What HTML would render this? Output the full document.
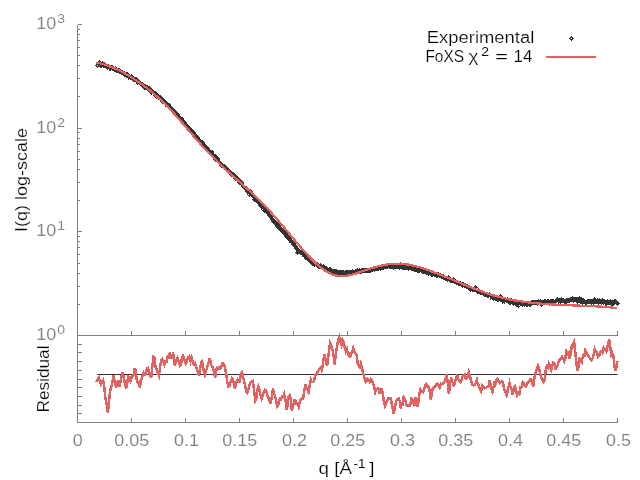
<!DOCTYPE html>
<html lang="en">
<head>
<meta charset="utf-8">
<title>FoXS SAXS profile fit</title>
<style>
html,body{margin:0;padding:0;background:#fff;}
body{width:640px;height:480px;overflow:hidden;font-family:"Liberation Sans",sans-serif;}
svg{display:block;will-change:transform;}
</style>
</head>
<body>
<svg width="640" height="480" viewBox="0 0 640 480">
<rect width="640" height="480" fill="#ffffff"/>
<path d="M97.9,65.3L100.5,62.7L103.1,65.3L100.5,67.9ZM98.9,65.2L101.5,62.6L104.1,65.2L101.5,67.8ZM99.9,63.7L102.5,61.1L105.1,63.7L102.5,66.3ZM100.9,65.2L103.5,62.6L106.1,65.2L103.5,67.8ZM101.9,65.0L104.5,62.4L107.1,65.0L104.5,67.6ZM102.9,65.7L105.5,63.1L108.1,65.7L105.5,68.3ZM103.9,66.3L106.5,63.7L109.1,66.3L106.5,68.9ZM104.9,67.2L107.5,64.6L110.1,67.2L107.5,69.8ZM105.9,66.5L108.5,63.9L111.1,66.5L108.5,69.1ZM106.9,67.9L109.5,65.3L112.1,67.9L109.5,70.5ZM107.9,67.9L110.5,65.3L113.1,67.9L110.5,70.5ZM108.9,67.8L111.5,65.2L114.1,67.8L111.5,70.4ZM109.9,68.0L112.5,65.4L115.1,68.0L112.5,70.6ZM110.9,68.5L113.5,65.9L116.1,68.5L113.5,71.1ZM111.9,69.2L114.5,66.6L117.1,69.2L114.5,71.8ZM112.9,68.7L115.5,66.1L118.1,68.7L115.5,71.3ZM113.9,70.6L116.5,68.0L119.1,70.6L116.5,73.2ZM114.9,70.3L117.5,67.7L120.1,70.3L117.5,72.9ZM115.9,70.1L118.5,67.5L121.1,70.1L118.5,72.7ZM116.9,71.6L119.5,69.0L122.1,71.6L119.5,74.2ZM117.9,71.5L120.5,68.9L123.1,71.5L120.5,74.1ZM118.9,72.2L121.5,69.6L124.1,72.2L121.5,74.8ZM119.9,72.5L122.5,69.9L125.1,72.5L122.5,75.1ZM120.9,73.6L123.5,71.0L126.1,73.6L123.5,76.2ZM121.9,74.0L124.5,71.4L127.1,74.0L124.5,76.6ZM122.9,74.1L125.5,71.5L128.1,74.1L125.5,76.7ZM123.9,74.9L126.5,72.3L129.1,74.9L126.5,77.5ZM124.9,74.8L127.5,72.2L130.1,74.8L127.5,77.4ZM125.9,76.9L128.5,74.3L131.1,76.9L128.5,79.5ZM126.9,76.3L129.5,73.7L132.1,76.3L129.5,78.9ZM127.9,77.2L130.5,74.6L133.1,77.2L130.5,79.8ZM128.9,77.0L131.5,74.4L134.1,77.0L131.5,79.6ZM129.9,77.2L132.5,74.6L135.1,77.2L132.5,79.8ZM130.9,79.6L133.5,77.0L136.1,79.6L133.5,82.2ZM131.9,79.7L134.5,77.1L137.1,79.7L134.5,82.3ZM132.9,79.9L135.5,77.3L138.1,79.9L135.5,82.5ZM133.9,80.0L136.5,77.4L139.1,80.0L136.5,82.6ZM134.9,82.1L137.5,79.5L140.1,82.1L137.5,84.7ZM135.9,81.5L138.5,78.9L141.1,81.5L138.5,84.1ZM136.9,82.4L139.5,79.8L142.1,82.4L139.5,85.0ZM137.9,83.2L140.5,80.6L143.1,83.2L140.5,85.8ZM138.9,84.2L141.5,81.6L144.1,84.2L141.5,86.8ZM139.9,84.7L142.5,82.1L145.1,84.7L142.5,87.3ZM140.9,85.4L143.5,82.8L146.1,85.4L143.5,88.0ZM141.9,87.1L144.5,84.5L147.1,87.1L144.5,89.7ZM142.9,86.9L145.5,84.3L148.1,86.9L145.5,89.5ZM143.9,87.8L146.5,85.2L149.1,87.8L146.5,90.4ZM144.9,87.5L147.5,84.9L150.1,87.5L147.5,90.1ZM145.9,89.5L148.5,86.9L151.1,89.5L148.5,92.1ZM146.9,88.9L149.5,86.3L152.1,88.9L149.5,91.5ZM147.9,90.2L150.5,87.6L153.1,90.2L150.5,92.8ZM148.9,92.6L151.5,90.0L154.1,92.6L151.5,95.2ZM149.9,91.7L152.5,89.1L155.1,91.7L152.5,94.3ZM150.9,92.9L153.5,90.3L156.1,92.9L153.5,95.5ZM151.9,93.1L154.5,90.5L157.1,93.1L154.5,95.7ZM152.9,93.9L155.5,91.3L158.1,93.9L155.5,96.5ZM153.9,96.0L156.5,93.4L159.1,96.0L156.5,98.6ZM154.9,95.9L157.5,93.3L160.1,95.9L157.5,98.5ZM155.9,97.0L158.5,94.4L161.1,97.0L158.5,99.6ZM156.9,97.7L159.5,95.1L162.1,97.7L159.5,100.3ZM157.9,97.9L160.5,95.3L163.1,97.9L160.5,100.5ZM158.9,99.5L161.5,96.9L164.1,99.5L161.5,102.1ZM159.9,101.1L162.5,98.5L165.1,101.1L162.5,103.7ZM160.9,101.0L163.5,98.4L166.1,101.0L163.5,103.6ZM161.9,102.6L164.5,100.0L167.1,102.6L164.5,105.2ZM162.9,103.9L165.5,101.3L168.1,103.9L165.5,106.5ZM163.9,103.5L166.5,100.9L169.1,103.5L166.5,106.1ZM164.9,105.7L167.5,103.1L170.1,105.7L167.5,108.3ZM165.9,105.1L168.5,102.5L171.1,105.1L168.5,107.7ZM166.9,107.5L169.5,104.9L172.1,107.5L169.5,110.1ZM167.9,107.9L170.5,105.3L173.1,107.9L170.5,110.5ZM168.9,108.5L171.5,105.9L174.1,108.5L171.5,111.1ZM169.9,110.1L172.5,107.5L175.1,110.1L172.5,112.7ZM170.9,110.8L173.5,108.2L176.1,110.8L173.5,113.4ZM171.9,111.3L174.5,108.7L177.1,111.3L174.5,113.9ZM172.9,113.9L175.5,111.3L178.1,113.9L175.5,116.5ZM173.9,115.0L176.5,112.4L179.1,115.0L176.5,117.6ZM174.9,114.2L177.5,111.6L180.1,114.2L177.5,116.8ZM175.9,116.2L178.5,113.6L181.1,116.2L178.5,118.8ZM176.9,117.3L179.5,114.7L182.1,117.3L179.5,119.9ZM177.9,118.6L180.5,116.0L183.1,118.6L180.5,121.2ZM178.9,119.1L181.5,116.5L184.1,119.1L181.5,121.7ZM179.9,121.5L182.5,118.9L185.1,121.5L182.5,124.1ZM180.9,122.1L183.5,119.5L186.1,122.1L183.5,124.7ZM181.9,122.7L184.5,120.1L187.1,122.7L184.5,125.3ZM182.9,124.2L185.5,121.6L188.1,124.2L185.5,126.8ZM183.9,125.2L186.5,122.6L189.1,125.2L186.5,127.8ZM184.9,126.7L187.5,124.1L190.1,126.7L187.5,129.3ZM185.9,128.3L188.5,125.7L191.1,128.3L188.5,130.9ZM186.9,129.5L189.5,126.9L192.1,129.5L189.5,132.1ZM187.9,129.7L190.5,127.1L193.1,129.7L190.5,132.3ZM188.9,131.5L191.5,128.9L194.1,131.5L191.5,134.1ZM189.9,132.1L192.5,129.5L195.1,132.1L192.5,134.7ZM190.9,132.8L193.5,130.2L196.1,132.8L193.5,135.4ZM191.9,134.4L194.5,131.8L197.1,134.4L194.5,137.0ZM192.9,136.1L195.5,133.5L198.1,136.1L195.5,138.7ZM193.9,136.4L196.5,133.8L199.1,136.4L196.5,139.0ZM194.9,138.0L197.5,135.4L200.1,138.0L197.5,140.6ZM195.9,139.8L198.5,137.2L201.1,139.8L198.5,142.4ZM196.9,140.3L199.5,137.7L202.1,140.3L199.5,142.9ZM197.9,141.4L200.5,138.8L203.1,141.4L200.5,144.0ZM198.9,142.4L201.5,139.8L204.1,142.4L201.5,145.0ZM199.9,143.0L202.5,140.4L205.1,143.0L202.5,145.6ZM200.9,145.0L203.5,142.4L206.1,145.0L203.5,147.6ZM201.9,146.3L204.5,143.7L207.1,146.3L204.5,148.9ZM202.9,147.5L205.5,144.9L208.1,147.5L205.5,150.1ZM203.9,147.9L206.5,145.3L209.1,147.9L206.5,150.5ZM204.9,149.0L207.5,146.4L210.1,149.0L207.5,151.6ZM205.9,151.2L208.5,148.6L211.1,151.2L208.5,153.8ZM206.9,151.2L209.5,148.6L212.1,151.2L209.5,153.8ZM207.9,152.6L210.5,150.0L213.1,152.6L210.5,155.2ZM208.9,152.1L211.5,149.5L214.1,152.1L211.5,154.7ZM209.9,154.3L212.5,151.7L215.1,154.3L212.5,156.9ZM210.9,155.4L213.5,152.8L216.1,155.4L213.5,158.0ZM211.9,156.1L214.5,153.5L217.1,156.1L214.5,158.7ZM212.9,159.2L215.5,156.6L218.1,159.2L215.5,161.8ZM213.9,159.0L216.5,156.4L219.1,159.0L216.5,161.6ZM214.9,159.0L217.5,156.4L220.1,159.0L217.5,161.6ZM215.9,161.3L218.5,158.7L221.1,161.3L218.5,163.9ZM216.9,162.3L219.5,159.7L222.1,162.3L219.5,164.9ZM217.9,163.4L220.5,160.8L223.1,163.4L220.5,166.0ZM218.9,165.4L221.5,162.8L224.1,165.4L221.5,168.0ZM219.9,165.4L222.5,162.8L225.1,165.4L222.5,168.0ZM220.9,166.4L223.5,163.8L226.1,166.4L223.5,169.0ZM221.9,167.0L224.5,164.4L227.1,167.0L224.5,169.6ZM222.9,167.7L225.5,165.1L228.1,167.7L225.5,170.3ZM223.9,169.4L226.5,166.8L229.1,169.4L226.5,172.0ZM224.9,170.3L227.5,167.7L230.1,170.3L227.5,172.9ZM225.9,170.7L228.5,168.1L231.1,170.7L228.5,173.3ZM226.9,172.0L229.5,169.4L232.1,172.0L229.5,174.6ZM227.9,173.4L230.5,170.8L233.1,173.4L230.5,176.0ZM228.9,174.4L231.5,171.8L234.1,174.4L231.5,177.0ZM229.9,174.9L232.5,172.3L235.1,174.9L232.5,177.5ZM230.9,174.7L233.5,172.1L236.1,174.7L233.5,177.3ZM231.9,177.4L234.5,174.8L237.1,177.4L234.5,180.0ZM232.9,177.9L235.5,175.3L238.1,177.9L235.5,180.5ZM233.9,177.7L236.5,175.1L239.1,177.7L236.5,180.3ZM234.9,179.8L237.5,177.2L240.1,179.8L237.5,182.4ZM235.9,179.2L238.5,176.6L241.1,179.2L238.5,181.8ZM236.9,182.4L239.5,179.8L242.1,182.4L239.5,185.0ZM237.9,182.9L240.5,180.3L243.1,182.9L240.5,185.5ZM238.9,183.0L241.5,180.4L244.1,183.0L241.5,185.6ZM239.9,185.5L242.5,182.9L245.1,185.5L242.5,188.1ZM240.9,186.7L243.5,184.1L246.1,186.7L243.5,189.3ZM241.9,187.2L244.5,184.6L247.1,187.2L244.5,189.8ZM242.9,188.8L245.5,186.2L248.1,188.8L245.5,191.4ZM243.9,188.3L246.5,185.7L249.1,188.3L246.5,190.9ZM244.9,191.6L247.5,189.0L250.1,191.6L247.5,194.2ZM245.9,191.9L248.5,189.3L251.1,191.9L248.5,194.5ZM246.9,194.4L249.5,191.8L252.1,194.4L249.5,197.0ZM247.9,191.6L250.5,189.0L253.1,191.6L250.5,194.2ZM248.9,193.6L251.5,191.0L254.1,193.6L251.5,196.2ZM249.9,195.4L252.5,192.8L255.1,195.4L252.5,198.0ZM250.9,196.7L253.5,194.1L256.1,196.7L253.5,199.3ZM251.9,199.6L254.5,197.0L257.1,199.6L254.5,202.2ZM252.9,199.0L255.5,196.4L258.1,199.0L255.5,201.6ZM253.9,199.2L256.5,196.6L259.1,199.2L256.5,201.8ZM254.9,201.8L257.5,199.2L260.1,201.8L257.5,204.4ZM255.9,202.6L258.5,200.0L261.1,202.6L258.5,205.2ZM256.9,203.0L259.5,200.4L262.1,203.0L259.5,205.6ZM257.9,205.4L260.5,202.8L263.1,205.4L260.5,208.0ZM258.9,206.9L261.5,204.3L264.1,206.9L261.5,209.5ZM259.9,206.8L262.5,204.2L265.1,206.8L262.5,209.4ZM260.9,207.3L263.5,204.7L266.1,207.3L263.5,209.9ZM261.9,210.5L264.5,207.9L267.1,210.5L264.5,213.1ZM262.9,210.8L265.5,208.2L268.1,210.8L265.5,213.4ZM263.9,211.4L266.5,208.8L269.1,211.4L266.5,214.0ZM264.9,212.1L267.5,209.5L270.1,212.1L267.5,214.7ZM265.9,213.8L268.5,211.2L271.1,213.8L268.5,216.4ZM266.9,215.6L269.5,213.0L272.1,215.6L269.5,218.2ZM267.9,216.4L270.5,213.8L273.1,216.4L270.5,219.0ZM268.9,215.2L271.5,212.6L274.1,215.2L271.5,217.8ZM269.9,219.3L272.5,216.7L275.1,219.3L272.5,221.9ZM270.9,221.5L273.5,218.9L276.1,221.5L273.5,224.1ZM271.9,221.5L274.5,218.9L277.1,221.5L274.5,224.1ZM272.9,223.1L275.5,220.5L278.1,223.1L275.5,225.7ZM273.9,223.6L276.5,221.0L279.1,223.6L276.5,226.2ZM274.9,226.5L277.5,223.9L280.1,226.5L277.5,229.1ZM275.9,226.1L278.5,223.5L281.1,226.1L278.5,228.7ZM276.9,228.5L279.5,225.9L282.1,228.5L279.5,231.1ZM277.9,229.8L280.5,227.2L283.1,229.8L280.5,232.4ZM278.9,229.5L281.5,226.9L284.1,229.5L281.5,232.1ZM279.9,231.7L282.5,229.1L285.1,231.7L282.5,234.3ZM280.9,231.0L283.5,228.4L286.1,231.0L283.5,233.6ZM281.9,233.8L284.5,231.2L287.1,233.8L284.5,236.4ZM282.9,233.4L285.5,230.8L288.1,233.4L285.5,236.0ZM283.9,236.3L286.5,233.7L289.1,236.3L286.5,238.9ZM284.9,236.7L287.5,234.1L290.1,236.7L287.5,239.3ZM285.9,238.1L288.5,235.5L291.1,238.1L288.5,240.7ZM286.9,238.8L289.5,236.2L292.1,238.8L289.5,241.4ZM287.9,240.9L290.5,238.3L293.1,240.9L290.5,243.5ZM288.9,242.5L291.5,239.9L294.1,242.5L291.5,245.1ZM289.9,242.4L292.5,239.8L295.1,242.4L292.5,245.0ZM290.9,244.0L293.5,241.4L296.1,244.0L293.5,246.6ZM291.9,245.7L294.5,243.1L297.1,245.7L294.5,248.3ZM292.9,246.2L295.5,243.6L298.1,246.2L295.5,248.8ZM293.9,248.8L296.5,246.2L299.1,248.8L296.5,251.4ZM294.9,252.4L297.5,249.8L300.1,252.4L297.5,255.0ZM295.9,250.4L298.5,247.8L301.1,250.4L298.5,253.0ZM296.9,251.3L299.5,248.7L302.1,251.3L299.5,253.9ZM297.9,252.6L300.5,250.0L303.1,252.6L300.5,255.2ZM298.9,252.9L301.5,250.3L304.1,252.9L301.5,255.5ZM299.9,253.4L302.5,250.8L305.1,253.4L302.5,256.0ZM300.9,254.9L303.5,252.3L306.1,254.9L303.5,257.5ZM301.9,256.5L304.5,253.9L307.1,256.5L304.5,259.1ZM302.9,256.9L305.5,254.3L308.1,256.9L305.5,259.5ZM303.9,257.3L306.5,254.7L309.1,257.3L306.5,259.9ZM304.9,258.0L307.5,255.4L310.1,258.0L307.5,260.6ZM305.9,259.5L308.5,256.9L311.1,259.5L308.5,262.1ZM306.9,260.0L309.5,257.4L312.1,260.0L309.5,262.6ZM307.9,261.3L310.5,258.7L313.1,261.3L310.5,263.9ZM308.9,260.8L311.5,258.2L314.1,260.8L311.5,263.4ZM309.9,263.6L312.5,261.0L315.1,263.6L312.5,266.2ZM310.9,262.5L313.5,259.9L316.1,262.5L313.5,265.1ZM311.9,264.4L314.5,261.8L317.1,264.4L314.5,267.0ZM312.9,263.4L315.5,260.8L318.1,263.4L315.5,266.0ZM313.9,264.5L316.5,261.9L319.1,264.5L316.5,267.1ZM314.9,264.4L317.5,261.8L320.1,264.4L317.5,267.0ZM315.9,266.2L318.5,263.6L321.1,266.2L318.5,268.8ZM316.9,266.2L319.5,263.6L322.1,266.2L319.5,268.8ZM317.9,266.0L320.5,263.4L323.1,266.0L320.5,268.6ZM318.9,266.7L321.5,264.1L324.1,266.7L321.5,269.3ZM319.9,267.7L322.5,265.1L325.1,267.7L322.5,270.3ZM320.9,267.0L323.5,264.4L326.1,267.0L323.5,269.6ZM321.9,268.0L324.5,265.4L327.1,268.0L324.5,270.6ZM322.9,268.5L325.5,265.9L328.1,268.5L325.5,271.1ZM323.9,268.2L326.5,265.6L329.1,268.2L326.5,270.8ZM324.9,269.7L327.5,267.1L330.1,269.7L327.5,272.3ZM325.9,270.8L328.5,268.2L331.1,270.8L328.5,273.4ZM326.9,269.5L329.5,266.9L332.1,269.5L329.5,272.1ZM327.9,270.0L330.5,267.4L333.1,270.0L330.5,272.6ZM328.9,270.8L331.5,268.2L334.1,270.8L331.5,273.4ZM329.9,271.1L332.5,268.5L335.1,271.1L332.5,273.7ZM330.9,271.3L333.5,268.7L336.1,271.3L333.5,273.9ZM331.9,271.3L334.5,268.7L337.1,271.3L334.5,273.9ZM332.9,271.2L335.5,268.6L338.1,271.2L335.5,273.8ZM333.9,271.2L336.5,268.6L339.1,271.2L336.5,273.8ZM334.9,272.8L337.5,270.2L340.1,272.8L337.5,275.4ZM335.9,272.8L338.5,270.2L341.1,272.8L338.5,275.4ZM336.9,272.1L339.5,269.5L342.1,272.1L339.5,274.7ZM337.9,272.5L340.5,269.9L343.1,272.5L340.5,275.1ZM338.9,272.4L341.5,269.8L344.1,272.4L341.5,275.0ZM339.9,272.4L342.5,269.8L345.1,272.4L342.5,275.0ZM340.9,272.2L343.5,269.6L346.1,272.2L343.5,274.8ZM341.9,273.5L344.5,270.9L347.1,273.5L344.5,276.1ZM342.9,272.5L345.5,269.9L348.1,272.5L345.5,275.1ZM343.9,272.8L346.5,270.2L349.1,272.8L346.5,275.4ZM344.9,272.4L347.5,269.8L350.1,272.4L347.5,275.0ZM345.9,272.5L348.5,269.9L351.1,272.5L348.5,275.1ZM346.9,272.9L349.5,270.3L352.1,272.9L349.5,275.5ZM347.9,272.2L350.5,269.6L353.1,272.2L350.5,274.8ZM348.9,272.7L351.5,270.1L354.1,272.7L351.5,275.3ZM349.9,271.7L352.5,269.1L355.1,271.7L352.5,274.3ZM350.9,272.2L353.5,269.6L356.1,272.2L353.5,274.8ZM351.9,272.3L354.5,269.7L357.1,272.3L354.5,274.9ZM352.9,271.9L355.5,269.3L358.1,271.9L355.5,274.5ZM353.9,271.2L356.5,268.6L359.1,271.2L356.5,273.8ZM354.9,271.0L357.5,268.4L360.1,271.0L357.5,273.6ZM355.9,271.1L358.5,268.5L361.1,271.1L358.5,273.7ZM356.9,270.9L359.5,268.3L362.1,270.9L359.5,273.5ZM357.9,271.2L360.5,268.6L363.1,271.2L360.5,273.8ZM358.9,270.9L361.5,268.3L364.1,270.9L361.5,273.5ZM359.9,270.5L362.5,267.9L365.1,270.5L362.5,273.1ZM360.9,270.2L363.5,267.6L366.1,270.2L363.5,272.8ZM361.9,270.3L364.5,267.7L367.1,270.3L364.5,272.9ZM362.9,270.4L365.5,267.8L368.1,270.4L365.5,273.0ZM363.9,270.6L366.5,268.0L369.1,270.6L366.5,273.2ZM364.9,270.3L367.5,267.7L370.1,270.3L367.5,272.9ZM365.9,270.4L368.5,267.8L371.1,270.4L368.5,273.0ZM366.9,270.5L369.5,267.9L372.1,270.5L369.5,273.1ZM367.9,270.0L370.5,267.4L373.1,270.0L370.5,272.6ZM368.9,269.1L371.5,266.5L374.1,269.1L371.5,271.7ZM369.9,269.4L372.5,266.8L375.1,269.4L372.5,272.0ZM370.9,268.7L373.5,266.1L376.1,268.7L373.5,271.3ZM371.9,269.1L374.5,266.5L377.1,269.1L374.5,271.7ZM372.9,268.1L375.5,265.5L378.1,268.1L375.5,270.7ZM373.9,268.5L376.5,265.9L379.1,268.5L376.5,271.1ZM374.9,268.4L377.5,265.8L380.1,268.4L377.5,271.0ZM375.9,268.3L378.5,265.7L381.1,268.3L378.5,270.9ZM376.9,267.8L379.5,265.2L382.1,267.8L379.5,270.4ZM377.9,268.7L380.5,266.1L383.1,268.7L380.5,271.3ZM378.9,267.2L381.5,264.6L384.1,267.2L381.5,269.8ZM379.9,267.6L382.5,265.0L385.1,267.6L382.5,270.2ZM380.9,266.9L383.5,264.3L386.1,266.9L383.5,269.5ZM381.9,266.5L384.5,263.9L387.1,266.5L384.5,269.1ZM382.9,266.5L385.5,263.9L388.1,266.5L385.5,269.1ZM383.9,266.0L386.5,263.4L389.1,266.0L386.5,268.6ZM384.9,266.5L387.5,263.9L390.1,266.5L387.5,269.1ZM385.9,265.6L388.5,263.0L391.1,265.6L388.5,268.2ZM386.9,266.6L389.5,264.0L392.1,266.6L389.5,269.2ZM387.9,266.1L390.5,263.5L393.1,266.1L390.5,268.7ZM388.9,266.3L391.5,263.7L394.1,266.3L391.5,268.9ZM389.9,265.5L392.5,262.9L395.1,265.5L392.5,268.1ZM390.9,267.3L393.5,264.7L396.1,267.3L393.5,269.9ZM391.9,266.5L394.5,263.9L397.1,266.5L394.5,269.1ZM392.9,266.4L395.5,263.8L398.1,266.4L395.5,269.0ZM393.9,266.0L396.5,263.4L399.1,266.0L396.5,268.6ZM394.9,266.5L397.5,263.9L400.1,266.5L397.5,269.1ZM395.9,266.2L398.5,263.6L401.1,266.2L398.5,268.8ZM396.9,267.4L399.5,264.8L402.1,267.4L399.5,270.0ZM397.9,264.8L400.5,262.2L403.1,264.8L400.5,267.4ZM398.9,266.5L401.5,263.9L404.1,266.5L401.5,269.1ZM399.9,267.2L402.5,264.6L405.1,267.2L402.5,269.8ZM400.9,267.2L403.5,264.6L406.1,267.2L403.5,269.8ZM401.9,267.3L404.5,264.7L407.1,267.3L404.5,269.9ZM402.9,267.5L405.5,264.9L408.1,267.5L405.5,270.1ZM403.9,267.4L406.5,264.8L409.1,267.4L406.5,270.0ZM404.9,267.1L407.5,264.5L410.1,267.1L407.5,269.7ZM405.9,267.9L408.5,265.3L411.1,267.9L408.5,270.5ZM406.9,267.7L409.5,265.1L412.1,267.7L409.5,270.3ZM407.9,267.8L410.5,265.2L413.1,267.8L410.5,270.4ZM408.9,268.2L411.5,265.6L414.1,268.2L411.5,270.8ZM409.9,268.4L412.5,265.8L415.1,268.4L412.5,271.0ZM410.9,268.2L413.5,265.6L416.1,268.2L413.5,270.8ZM411.9,269.1L414.5,266.5L417.1,269.1L414.5,271.7ZM412.9,269.1L415.5,266.5L418.1,269.1L415.5,271.7ZM413.9,269.8L416.5,267.2L419.1,269.8L416.5,272.4ZM414.9,270.4L417.5,267.8L420.1,270.4L417.5,273.0ZM415.9,270.1L418.5,267.5L421.1,270.1L418.5,272.7ZM416.9,270.1L419.5,267.5L422.1,270.1L419.5,272.7ZM417.9,269.7L420.5,267.1L423.1,269.7L420.5,272.3ZM418.9,270.5L421.5,267.9L424.1,270.5L421.5,273.1ZM419.9,270.9L422.5,268.3L425.1,270.9L422.5,273.5ZM420.9,271.2L423.5,268.6L426.1,271.2L423.5,273.8ZM421.9,271.4L424.5,268.8L427.1,271.4L424.5,274.0ZM422.9,271.5L425.5,268.9L428.1,271.5L425.5,274.1ZM423.9,272.8L426.5,270.2L429.1,272.8L426.5,275.4ZM424.9,272.3L427.5,269.7L430.1,272.3L427.5,274.9ZM425.9,273.0L428.5,270.4L431.1,273.0L428.5,275.6ZM426.9,272.5L429.5,269.9L432.1,272.5L429.5,275.1ZM427.9,273.2L430.5,270.6L433.1,273.2L430.5,275.8ZM428.9,273.9L431.5,271.3L434.1,273.9L431.5,276.5ZM429.9,274.2L432.5,271.6L435.1,274.2L432.5,276.8ZM430.9,273.4L433.5,270.8L436.1,273.4L433.5,276.0ZM431.9,274.2L434.5,271.6L437.1,274.2L434.5,276.8ZM432.9,274.3L435.5,271.7L438.1,274.3L435.5,276.9ZM433.9,275.3L436.5,272.7L439.1,275.3L436.5,277.9ZM434.9,275.3L437.5,272.7L440.1,275.3L437.5,277.9ZM435.9,274.8L438.5,272.2L441.1,274.8L438.5,277.4ZM436.9,275.7L439.5,273.1L442.1,275.7L439.5,278.3ZM437.9,275.8L440.5,273.2L443.1,275.8L440.5,278.4ZM438.9,276.3L441.5,273.7L444.1,276.3L441.5,278.9ZM439.9,276.4L442.5,273.8L445.1,276.4L442.5,279.0ZM440.9,277.0L443.5,274.4L446.1,277.0L443.5,279.6ZM441.9,277.8L444.5,275.2L447.1,277.8L444.5,280.4ZM442.9,278.7L445.5,276.1L448.1,278.7L445.5,281.3ZM443.9,278.4L446.5,275.8L449.1,278.4L446.5,281.0ZM444.9,279.3L447.5,276.7L450.1,279.3L447.5,281.9ZM445.9,278.0L448.5,275.4L451.1,278.0L448.5,280.6ZM446.9,279.6L449.5,277.0L452.1,279.6L449.5,282.2ZM447.9,280.0L450.5,277.4L453.1,280.0L450.5,282.6ZM448.9,280.3L451.5,277.7L454.1,280.3L451.5,282.9ZM449.9,280.5L452.5,277.9L455.1,280.5L452.5,283.1ZM450.9,279.9L453.5,277.3L456.1,279.9L453.5,282.5ZM451.9,280.9L454.5,278.3L457.1,280.9L454.5,283.5ZM452.9,281.7L455.5,279.1L458.1,281.7L455.5,284.3ZM453.9,282.4L456.5,279.8L459.1,282.4L456.5,285.0ZM454.9,282.2L457.5,279.6L460.1,282.2L457.5,284.8ZM455.9,283.1L458.5,280.5L461.1,283.1L458.5,285.7ZM456.9,283.4L459.5,280.8L462.1,283.4L459.5,286.0ZM457.9,283.8L460.5,281.2L463.1,283.8L460.5,286.4ZM458.9,284.3L461.5,281.7L464.1,284.3L461.5,286.9ZM459.9,285.0L462.5,282.4L465.1,285.0L462.5,287.6ZM460.9,284.8L463.5,282.2L466.1,284.8L463.5,287.4ZM461.9,285.5L464.5,282.9L467.1,285.5L464.5,288.1ZM462.9,285.5L465.5,282.9L468.1,285.5L465.5,288.1ZM463.9,286.2L466.5,283.6L469.1,286.2L466.5,288.8ZM464.9,286.4L467.5,283.8L470.1,286.4L467.5,289.0ZM465.9,287.5L468.5,284.9L471.1,287.5L468.5,290.1ZM466.9,288.8L469.5,286.2L472.1,288.8L469.5,291.4ZM467.9,289.1L470.5,286.5L473.1,289.1L470.5,291.7ZM468.9,288.3L471.5,285.7L474.1,288.3L471.5,290.9ZM469.9,289.3L472.5,286.7L475.1,289.3L472.5,291.9ZM470.9,289.6L473.5,287.0L476.1,289.6L473.5,292.2ZM471.9,289.0L474.5,286.4L477.1,289.0L474.5,291.6ZM472.9,287.9L475.5,285.3L478.1,287.9L475.5,290.5ZM473.9,290.5L476.5,287.9L479.1,290.5L476.5,293.1ZM474.9,291.3L477.5,288.7L480.1,291.3L477.5,293.9ZM475.9,291.0L478.5,288.4L481.1,291.0L478.5,293.6ZM476.9,291.7L479.5,289.1L482.1,291.7L479.5,294.3ZM477.9,292.2L480.5,289.6L483.1,292.2L480.5,294.8ZM478.9,292.6L481.5,290.0L484.1,292.6L481.5,295.2ZM479.9,292.8L482.5,290.2L485.1,292.8L482.5,295.4ZM480.9,293.8L483.5,291.2L486.1,293.8L483.5,296.4ZM481.9,294.7L484.5,292.1L487.1,294.7L484.5,297.3ZM482.9,294.8L485.5,292.2L488.1,294.8L485.5,297.4ZM483.9,294.5L486.5,291.9L489.1,294.5L486.5,297.1ZM484.9,295.2L487.5,292.6L490.1,295.2L487.5,297.8ZM485.9,295.7L488.5,293.1L491.1,295.7L488.5,298.3ZM486.9,294.9L489.5,292.3L492.1,294.9L489.5,297.5ZM487.9,296.9L490.5,294.3L493.1,296.9L490.5,299.5ZM488.9,296.2L491.5,293.6L494.1,296.2L491.5,298.8ZM489.9,296.2L492.5,293.6L495.1,296.2L492.5,298.8ZM490.9,298.8L493.5,296.2L496.1,298.8L493.5,301.4ZM491.9,297.0L494.5,294.4L497.1,297.0L494.5,299.6ZM492.9,297.9L495.5,295.3L498.1,297.9L495.5,300.5ZM493.9,298.0L496.5,295.4L499.1,298.0L496.5,300.6ZM494.9,299.4L497.5,296.8L500.1,299.4L497.5,302.0ZM495.9,299.0L498.5,296.4L501.1,299.0L498.5,301.6ZM496.9,298.7L499.5,296.1L502.1,298.7L499.5,301.3ZM497.9,297.0L500.5,294.4L503.1,297.0L500.5,299.6ZM498.9,299.9L501.5,297.3L504.1,299.9L501.5,302.5ZM499.9,301.8L502.5,299.2L505.1,301.8L502.5,304.4ZM500.9,300.1L503.5,297.5L506.1,300.1L503.5,302.7ZM501.9,301.8L504.5,299.2L507.1,301.8L504.5,304.4ZM502.9,299.9L505.5,297.3L508.1,299.9L505.5,302.5ZM503.9,300.4L506.5,297.8L509.1,300.4L506.5,303.0ZM504.9,300.0L507.5,297.4L510.1,300.0L507.5,302.6ZM505.9,301.6L508.5,299.0L511.1,301.6L508.5,304.2ZM506.9,302.1L509.5,299.5L512.1,302.1L509.5,304.7ZM507.9,302.0L510.5,299.4L513.1,302.0L510.5,304.6ZM508.9,300.9L511.5,298.3L514.1,300.9L511.5,303.5ZM509.9,302.1L512.5,299.5L515.1,302.1L512.5,304.7ZM510.9,302.9L513.5,300.3L516.1,302.9L513.5,305.5ZM511.9,302.5L514.5,299.9L517.1,302.5L514.5,305.1ZM512.9,303.6L515.5,301.0L518.1,303.6L515.5,306.2ZM513.9,304.7L516.5,302.1L519.1,304.7L516.5,307.3ZM514.9,302.4L517.5,299.8L520.1,302.4L517.5,305.0ZM515.9,305.3L518.5,302.7L521.1,305.3L518.5,307.9ZM516.9,302.9L519.5,300.3L522.1,302.9L519.5,305.5ZM517.9,303.7L520.5,301.1L523.1,303.7L520.5,306.3ZM518.9,303.8L521.5,301.2L524.1,303.8L521.5,306.4ZM519.9,304.5L522.5,301.9L525.1,304.5L522.5,307.1ZM520.9,303.7L523.5,301.1L526.1,303.7L523.5,306.3ZM521.9,303.9L524.5,301.3L527.1,303.9L524.5,306.5ZM522.9,303.8L525.5,301.2L528.1,303.8L525.5,306.4ZM523.9,304.2L526.5,301.6L529.1,304.2L526.5,306.8ZM524.9,304.1L527.5,301.5L530.1,304.1L527.5,306.7ZM525.9,303.7L528.5,301.1L531.1,303.7L528.5,306.3ZM526.9,304.3L529.5,301.7L532.1,304.3L529.5,306.9ZM527.9,304.5L530.5,301.9L533.1,304.5L530.5,307.1ZM528.9,302.3L531.5,299.7L534.1,302.3L531.5,304.9ZM529.9,302.8L532.5,300.2L535.1,302.8L532.5,305.4ZM530.9,302.5L533.5,299.9L536.1,302.5L533.5,305.1ZM531.9,302.3L534.5,299.7L537.1,302.3L534.5,304.9ZM532.9,302.2L535.5,299.6L538.1,302.2L535.5,304.8ZM533.9,302.5L536.5,299.9L539.1,302.5L536.5,305.1ZM534.9,302.9L537.5,300.3L540.1,302.9L537.5,305.5ZM535.9,301.9L538.5,299.3L541.1,301.9L538.5,304.5ZM536.9,302.6L539.5,300.0L542.1,302.6L539.5,305.2ZM537.9,302.0L540.5,299.4L543.1,302.0L540.5,304.6ZM538.9,304.1L541.5,301.5L544.1,304.1L541.5,306.7ZM539.9,302.4L542.5,299.8L545.1,302.4L542.5,305.0ZM540.9,302.8L543.5,300.2L546.1,302.8L543.5,305.4ZM541.9,301.6L544.5,299.0L547.1,301.6L544.5,304.2ZM542.9,301.6L545.5,299.0L548.1,301.6L545.5,304.2ZM543.9,302.3L546.5,299.7L549.1,302.3L546.5,304.9ZM544.9,301.6L547.5,299.0L550.1,301.6L547.5,304.2ZM545.9,302.0L548.5,299.4L551.1,302.0L548.5,304.6ZM546.9,302.9L549.5,300.3L552.1,302.9L549.5,305.5ZM547.9,301.5L550.5,298.9L553.1,301.5L550.5,304.1ZM548.9,301.3L551.5,298.7L554.1,301.3L551.5,303.9ZM549.9,302.0L552.5,299.4L555.1,302.0L552.5,304.6ZM550.9,301.6L553.5,299.0L556.1,301.6L553.5,304.2ZM551.9,302.2L554.5,299.6L557.1,302.2L554.5,304.8ZM552.9,301.5L555.5,298.9L558.1,301.5L555.5,304.1ZM553.9,300.8L556.5,298.2L559.1,300.8L556.5,303.4ZM554.9,299.9L557.5,297.3L560.1,299.9L557.5,302.5ZM555.9,301.5L558.5,298.9L561.1,301.5L558.5,304.1ZM556.9,300.7L559.5,298.1L562.1,300.7L559.5,303.3ZM557.9,301.1L560.5,298.5L563.1,301.1L560.5,303.7ZM558.9,299.6L561.5,297.0L564.1,299.6L561.5,302.2ZM559.9,300.2L562.5,297.6L565.1,300.2L562.5,302.8ZM560.9,300.8L563.5,298.2L566.1,300.8L563.5,303.4ZM561.9,301.2L564.5,298.6L567.1,301.2L564.5,303.8ZM562.9,301.1L565.5,298.5L568.1,301.1L565.5,303.7ZM563.9,301.1L566.5,298.5L569.1,301.1L566.5,303.7ZM564.9,300.1L567.5,297.5L570.1,300.1L567.5,302.7ZM565.9,300.7L568.5,298.1L571.1,300.7L568.5,303.3ZM566.9,300.1L569.5,297.5L572.1,300.1L569.5,302.7ZM567.9,299.6L570.5,297.0L573.1,299.6L570.5,302.2ZM568.9,299.3L571.5,296.7L574.1,299.3L571.5,301.9ZM569.9,299.0L572.5,296.4L575.1,299.0L572.5,301.6ZM570.9,300.3L573.5,297.7L576.1,300.3L573.5,302.9ZM571.9,299.6L574.5,297.0L577.1,299.6L574.5,302.2ZM572.9,299.1L575.5,296.5L578.1,299.1L575.5,301.7ZM573.9,299.6L576.5,297.0L579.1,299.6L576.5,302.2ZM574.9,301.2L577.5,298.6L580.1,301.2L577.5,303.8ZM575.9,299.1L578.5,296.5L581.1,299.1L578.5,301.7ZM576.9,298.2L579.5,295.6L582.1,298.2L579.5,300.8ZM577.9,301.6L580.5,299.0L583.1,301.6L580.5,304.2ZM578.9,299.7L581.5,297.1L584.1,299.7L581.5,302.3ZM579.9,302.0L582.5,299.4L585.1,302.0L582.5,304.6ZM580.9,300.7L583.5,298.1L586.1,300.7L583.5,303.3ZM581.9,301.4L584.5,298.8L587.1,301.4L584.5,304.0ZM582.9,302.1L585.5,299.5L588.1,302.1L585.5,304.7ZM583.9,302.2L586.5,299.6L589.1,302.2L586.5,304.8ZM584.9,301.8L587.5,299.2L590.1,301.8L587.5,304.4ZM585.9,301.2L588.5,298.6L591.1,301.2L588.5,303.8ZM586.9,301.1L589.5,298.5L592.1,301.1L589.5,303.7ZM587.9,301.1L590.5,298.5L593.1,301.1L590.5,303.7ZM588.9,302.4L591.5,299.8L594.1,302.4L591.5,305.0ZM589.9,301.5L592.5,298.9L595.1,301.5L592.5,304.1ZM590.9,302.1L593.5,299.5L596.1,302.1L593.5,304.7ZM591.9,299.6L594.5,297.0L597.1,299.6L594.5,302.2ZM592.9,301.0L595.5,298.4L598.1,301.0L595.5,303.6ZM593.9,301.5L596.5,298.9L599.1,301.5L596.5,304.1ZM594.9,301.0L597.5,298.4L600.1,301.0L597.5,303.6ZM595.9,302.9L598.5,300.3L601.1,302.9L598.5,305.5ZM596.9,300.5L599.5,297.9L602.1,300.5L599.5,303.1ZM597.9,301.7L600.5,299.1L603.1,301.7L600.5,304.3ZM598.9,302.0L601.5,299.4L604.1,302.0L601.5,304.6ZM599.9,300.8L602.5,298.2L605.1,300.8L602.5,303.4ZM600.9,302.1L603.5,299.5L606.1,302.1L603.5,304.7ZM601.9,301.9L604.5,299.3L607.1,301.9L604.5,304.5ZM602.9,303.9L605.5,301.3L608.1,303.9L605.5,306.5ZM603.9,302.9L606.5,300.3L609.1,302.9L606.5,305.5ZM604.9,301.9L607.5,299.3L610.1,301.9L607.5,304.5ZM605.9,302.8L608.5,300.2L611.1,302.8L608.5,305.4ZM606.9,302.5L609.5,299.9L612.1,302.5L609.5,305.1ZM607.9,302.0L610.5,299.4L613.1,302.0L610.5,304.6ZM608.9,302.9L611.5,300.3L614.1,302.9L611.5,305.5ZM609.9,302.9L612.5,300.3L615.1,302.9L612.5,305.5ZM610.9,303.8L613.5,301.2L616.1,303.8L613.5,306.4ZM611.9,301.7L614.5,299.1L617.1,301.7L614.5,304.3ZM612.9,301.8L615.5,299.2L618.1,301.8L615.5,304.4ZM613.9,302.4L616.5,299.8L619.1,302.4L616.5,305.0ZM614.9,303.5L617.5,300.9L620.1,303.5L617.5,306.1ZM97,63h1v1h-1zM96,64h3v1h-3zM95,65h2v1h-2zM98,65h2v1h-2zM96,66h3v1h-3zM97,67h1v1h-1zM99,60h1v1h-1zM98,61h3v1h-3zM97,62h2v1h-2zM100,62h2v1h-2zM98,63h3v1h-3zM99,64h1v1h-1z" fill="#333333" stroke="none" shape-rendering="crispEdges"/>
<polyline points="96.3,62.7 97.3,62.8 98.3,63.0 99.3,63.2 100.3,63.4 101.3,63.7 102.3,63.9 103.3,64.2 104.3,64.5 105.3,64.8 106.3,65.1 107.3,65.5 108.3,65.8 109.3,66.2 110.3,66.6 111.3,67.0 112.3,67.4 113.3,67.8 114.3,68.2 115.3,68.7 116.3,69.1 117.3,69.6 118.3,70.1 119.3,70.6 120.3,71.1 121.3,71.6 122.3,72.1 123.3,72.6 124.3,73.2 125.3,73.7 126.3,74.3 127.3,74.8 128.3,75.4 129.3,76.0 130.3,76.6 131.3,77.2 132.3,77.8 133.3,78.5 134.3,79.1 135.3,79.8 136.3,80.4 137.3,81.1 138.3,81.8 139.3,82.5 140.3,83.2 141.3,83.9 142.3,84.6 143.3,85.3 144.3,86.1 145.3,86.8 146.3,87.6 147.3,88.4 148.3,89.2 149.3,90.0 150.3,90.8 151.3,91.6 152.3,92.4 153.3,93.3 154.3,94.1 155.3,95.0 156.3,95.9 157.3,96.8 158.3,97.7 159.3,98.6 160.3,99.5 161.3,100.4 162.3,101.4 163.3,102.4 164.3,103.3 165.3,104.3 166.3,105.3 167.3,106.3 168.3,107.4 169.3,108.4 170.3,109.4 171.3,110.5 172.3,111.6 173.3,112.7 174.3,113.8 175.3,114.9 176.3,116.0 177.3,117.1 178.3,118.2 179.3,119.4 180.3,120.5 181.3,121.7 182.3,122.8 183.3,124.0 184.3,125.2 185.3,126.3 186.3,127.5 187.3,128.7 188.3,129.8 189.3,131.0 190.3,132.2 191.3,133.4 192.3,134.5 193.3,135.7 194.3,136.9 195.3,138.0 196.3,139.2 197.3,140.3 198.3,141.5 199.3,142.6 200.3,143.8 201.3,144.9 202.3,146.0 203.3,147.1 204.3,148.2 205.3,149.3 206.3,150.4 207.3,151.5 208.3,152.5 209.3,153.6 210.3,154.6 211.3,155.6 212.3,156.6 213.3,157.6 214.3,158.6 215.3,159.6 216.3,160.6 217.3,161.6 218.3,162.5 219.3,163.5 220.3,164.4 221.3,165.4 222.3,166.3 223.3,167.2 224.3,168.1 225.3,169.1 226.3,170.0 227.3,170.9 228.3,171.8 229.3,172.7 230.3,173.6 231.3,174.5 232.3,175.4 233.3,176.3 234.3,177.2 235.3,178.0 236.3,178.9 237.3,179.8 238.3,180.7 239.3,181.6 240.3,182.5 241.3,183.4 242.3,184.3 243.3,185.2 244.3,186.1 245.3,187.0 246.3,187.9 247.3,188.8 248.3,189.7 249.3,190.6 250.3,191.5 251.3,192.5 252.3,193.4 253.3,194.3 254.3,195.3 255.3,196.2 256.3,197.2 257.3,198.2 258.3,199.1 259.3,200.1 260.3,201.1 261.3,202.1 262.3,203.1 263.3,204.2 264.3,205.2 265.3,206.2 266.3,207.3 267.3,208.4 268.3,209.5 269.3,210.5 270.3,211.6 271.3,212.8 272.3,213.9 273.3,215.0 274.3,216.1 275.3,217.3 276.3,218.4 277.3,219.6 278.3,220.8 279.3,221.9 280.3,223.1 281.3,224.3 282.3,225.5 283.3,226.6 284.3,227.8 285.3,229.0 286.3,230.2 287.3,231.4 288.3,232.6 289.3,233.8 290.3,235.0 291.3,236.2 292.3,237.4 293.3,238.6 294.3,239.7 295.3,240.9 296.3,242.1 297.3,243.3 298.3,244.5 299.3,245.6 300.3,246.8 301.3,247.9 302.3,249.1 303.3,250.2 304.3,251.3 305.3,252.5 306.3,253.6 307.3,254.6 308.3,255.7 309.3,256.8 310.3,257.8 311.3,258.8 312.3,259.8 313.3,260.8 314.3,261.8 315.3,262.7 316.3,263.7 317.3,264.6 318.3,265.4 319.3,266.3 320.3,267.1 321.3,267.9 322.3,268.6 323.3,269.4 324.3,270.1 325.3,270.7 326.3,271.4 327.3,272.0 328.3,272.5 329.3,273.1 330.3,273.5 331.3,274.0 332.3,274.4 333.3,274.8 334.3,275.1 335.3,275.4 336.3,275.6 337.3,275.8 338.3,276.0 339.3,276.1 340.3,276.2 341.3,276.2 342.3,276.2 343.3,276.2 344.3,276.1 345.3,276.0 346.3,275.9 347.3,275.7 348.3,275.5 349.3,275.3 350.3,275.1 351.3,274.9 352.3,274.6 353.3,274.3 354.3,274.0 355.3,273.7 356.3,273.4 357.3,273.0 358.3,272.7 359.3,272.4 360.3,272.0 361.3,271.7 362.3,271.3 363.3,271.0 364.3,270.6 365.3,270.3 366.3,269.9 367.3,269.6 368.3,269.2 369.3,268.9 370.3,268.6 371.3,268.3 372.3,268.0 373.3,267.7 374.3,267.4 375.3,267.1 376.3,266.8 377.3,266.6 378.3,266.3 379.3,266.1 380.3,265.8 381.3,265.6 382.3,265.4 383.3,265.2 384.3,265.0 385.3,264.8 386.3,264.6 387.3,264.5 388.3,264.3 389.3,264.2 390.3,264.1 391.3,264.0 392.3,263.9 393.3,263.8 394.3,263.8 395.3,263.7 396.3,263.7 397.3,263.7 398.3,263.7 399.3,263.7 400.3,263.8 401.3,263.8 402.3,263.9 403.3,264.0 404.3,264.1 405.3,264.2 406.3,264.3 407.3,264.5 408.3,264.6 409.3,264.8 410.3,265.0 411.3,265.2 412.3,265.4 413.3,265.7 414.3,265.9 415.3,266.1 416.3,266.4 417.3,266.7 418.3,266.9 419.3,267.2 420.3,267.5 421.3,267.8 422.3,268.1 423.3,268.5 424.3,268.8 425.3,269.1 426.3,269.4 427.3,269.8 428.3,270.1 429.3,270.5 430.3,270.8 431.3,271.2 432.3,271.6 433.3,271.9 434.3,272.3 435.3,272.7 436.3,273.1 437.3,273.5 438.3,273.9 439.3,274.3 440.3,274.7 441.3,275.0 442.3,275.4 443.3,275.9 444.3,276.3 445.3,276.7 446.3,277.1 447.3,277.5 448.3,277.9 449.3,278.3 450.3,278.7 451.3,279.1 452.3,279.6 453.3,280.0 454.3,280.4 455.3,280.8 456.3,281.2 457.3,281.7 458.3,282.1 459.3,282.5 460.3,282.9 461.3,283.3 462.3,283.8 463.3,284.2 464.3,284.6 465.3,285.0 466.3,285.4 467.3,285.8 468.3,286.2 469.3,286.6 470.3,287.0 471.3,287.4 472.3,287.8 473.3,288.2 474.3,288.6 475.3,289.0 476.3,289.4 477.3,289.8 478.3,290.2 479.3,290.5 480.3,290.9 481.3,291.3 482.3,291.6 483.3,292.0 484.3,292.4 485.3,292.7 486.3,293.0 487.3,293.4 488.3,293.7 489.3,294.0 490.3,294.4 491.3,294.7 492.3,295.0 493.3,295.3 494.3,295.6 495.3,295.9 496.3,296.2 497.3,296.4 498.3,296.7 499.3,297.0 500.3,297.2 501.3,297.5 502.3,297.7 503.3,298.0 504.3,298.2 505.3,298.4 506.3,298.7 507.3,298.9 508.3,299.1 509.3,299.3 510.3,299.5 511.3,299.7 512.3,299.9 513.3,300.1 514.3,300.3 515.3,300.5 516.3,300.6 517.3,300.8 518.3,301.0 519.3,301.1 520.3,301.3 521.3,301.4 522.3,301.6 523.3,301.7 524.3,301.9 525.3,302.0 526.3,302.1 527.3,302.3 528.3,302.4 529.3,302.5 530.3,302.6 531.3,302.7 532.3,302.9 533.3,303.0 534.3,303.1 535.3,303.2 536.3,303.3 537.3,303.4 538.3,303.5 539.3,303.5 540.3,303.6 541.3,303.7 542.3,303.8 543.3,303.9 544.3,303.9 545.3,304.0 546.3,304.1 547.3,304.2 548.3,304.2 549.3,304.3 550.3,304.3 551.3,304.4 552.3,304.5 553.3,304.5 554.3,304.6 555.3,304.6 556.3,304.7 557.3,304.7 558.3,304.8 559.3,304.8 560.3,304.9 561.3,304.9 562.3,305.0 563.3,305.0 564.3,305.1 565.3,305.1 566.3,305.1 567.3,305.2 568.3,305.2 569.3,305.3 570.3,305.3 571.3,305.3 572.3,305.4 573.3,305.4 574.3,305.4 575.3,305.5 576.3,305.5 577.3,305.6 578.3,305.6 579.3,305.6 580.3,305.7 581.3,305.7 582.3,305.7 583.3,305.8 584.3,305.8 585.3,305.9 586.3,305.9 587.3,306.0 588.3,306.0 589.3,306.0 590.3,306.1 591.3,306.1 592.3,306.2 593.3,306.2 594.3,306.3 595.3,306.3 596.3,306.4 597.3,306.5 598.3,306.5 599.3,306.6 600.3,306.6 601.3,306.7 602.3,306.8 603.3,306.8 604.3,306.9 605.3,307.0 606.3,307.1 607.3,307.1 608.3,307.2 609.3,307.3 610.3,307.4 611.3,307.5 612.3,307.6 613.3,307.7 614.3,307.8 615.3,307.9 616.3,308.0 617.3,308.1" fill="none" stroke="#e26261" stroke-width="2.3" stroke-linejoin="round" shape-rendering="crispEdges"/>
<line x1="97" y1="374.5" x2="617.5" y2="374.5" stroke="#333333" stroke-width="1"/>
<polyline points="96.1,382.1 97.4,379.9 98.8,377.7 99.8,381.5 100.9,384.3 102.0,381.6 103.1,379.9 104.2,387.0 105.3,397.4 106.6,404.3 107.9,412.7 109.7,394.1 110.8,388.0 111.9,385.4 113.6,375.5 114.7,381.1 115.8,386.5 116.9,385.6 118.0,379.9 119.5,386.5 120.6,380.8 121.7,375.9 122.8,372.2 123.9,378.6 125.0,383.8 126.1,388.6 127.2,382.8 128.3,376.6 129.4,377.1 130.5,381.0 131.6,378.2 132.7,375.5 133.6,374.9 134.6,369.4 135.5,370.0 137.0,382.1 138.0,383.1 138.9,382.3 139.9,387.6 141.2,379.8 142.5,376.6 143.6,372.6 144.7,374.7 145.8,374.4 146.9,368.8 148.0,367.8 149.1,371.6 150.2,374.7 151.2,377.7 152.3,367.0 153.4,356.9 154.5,357.8 155.6,367.8 156.7,369.4 157.8,372.9 158.9,375.5 160.0,368.1 161.1,360.2 162.2,358.9 163.3,362.2 164.4,364.6 165.5,361.2 166.6,361.3 167.7,356.9 168.8,357.3 169.8,352.5 171.4,359.1 173.1,352.5 174.9,365.7 176.2,360.4 177.5,358.0 178.8,361.8 180.1,365.7 181.1,364.0 182.0,358.0 183.0,355.8 183.9,358.2 184.9,361.1 185.8,363.5 186.7,361.9 187.7,358.0 188.6,358.7 189.5,356.9 190.6,361.2 191.7,357.8 192.8,362.4 193.9,364.5 195.0,363.5 196.1,367.3 197.2,369.6 198.3,374.4 199.2,374.7 200.1,369.2 201.1,362.4 202.0,361.3 202.9,365.8 203.9,371.1 204.8,374.4 205.8,370.8 206.9,369.1 207.9,364.4 208.9,362.5 209.9,358.0 211.2,365.0 212.5,366.8 213.8,371.0 215.1,377.7 216.9,367.8 217.9,368.6 219.0,367.7 220.0,368.9 221.1,367.3 222.2,363.2 223.3,363.5 224.4,365.7 225.5,370.0 226.4,375.2 227.4,382.6 228.3,386.5 229.6,385.8 230.9,381.0 232.0,378.1 233.1,379.9 234.9,388.6 236.2,382.8 237.5,379.9 238.6,382.1 239.7,382.1 240.8,373.6 241.9,372.2 243.0,376.3 244.1,382.1 245.2,385.6 246.2,391.6 247.3,393.0 248.4,389.9 249.5,384.3 250.6,382.6 251.7,381.4 252.8,381.0 254.1,390.4 255.4,400.7 256.4,398.7 257.3,390.4 258.3,386.5 259.4,389.9 260.5,395.1 261.6,398.5 262.7,395.4 263.8,392.3 264.8,389.7 265.9,389.9 267.0,394.1 268.1,397.4 269.2,399.9 270.3,404.0 271.6,398.4 272.9,388.6 273.9,393.1 274.8,395.2 275.8,398.5 277.3,406.2 278.3,404.8 279.2,400.4 280.2,398.5 281.1,399.3 282.1,396.3 283.1,396.3 284.1,394.1 285.4,399.5 286.7,409.5 287.7,405.3 288.6,396.9 289.6,395.2 290.7,399.2 291.8,410.5 293.1,405.1 294.4,400.7 295.5,400.7 296.6,404.0 297.7,403.5 298.8,406.6 299.8,401.8 300.9,399.2 302.0,398.5 303.1,398.5 304.2,391.8 305.3,384.3 306.4,387.7 307.5,389.1 308.6,391.9 309.7,385.5 310.8,379.9 311.9,382.2 313.0,382.1 314.1,380.5 315.2,375.1 316.2,374.4 317.3,372.4 318.4,370.8 319.5,368.9 320.6,367.6 321.7,370.0 322.7,365.4 323.6,358.3 324.6,354.7 325.9,361.9 327.2,365.7 328.1,358.3 329.1,350.5 330.0,342.7 331.3,345.4 332.7,350.3 333.8,357.2 334.8,364.6 335.9,352.2 337.0,347.0 338.1,340.1 339.2,337.2 340.3,341.7 341.4,344.9 342.5,339.4 343.6,341.6 344.7,348.0 345.8,351.4 346.9,349.0 348.0,354.2 349.1,353.6 350.0,358.0 351.1,353.2 352.2,352.8 353.3,348.1 354.4,351.1 355.5,353.6 356.6,354.9 357.7,363.9 358.8,365.7 359.8,367.2 360.9,363.5 362.0,368.3 363.1,373.3 364.4,377.2 365.8,382.1 366.7,381.1 367.6,378.9 368.6,379.9 369.7,381.9 370.8,378.9 371.9,379.9 373.0,383.8 374.1,386.5 375.2,391.9 376.2,389.2 377.3,388.6 378.4,388.5 379.5,393.0 380.6,393.1 381.7,388.6 382.8,394.2 383.9,402.1 385.0,406.2 386.3,402.9 387.6,399.6 388.6,398.0 389.5,398.3 390.5,398.5 391.6,402.6 392.7,408.7 393.8,413.8 395.1,406.6 396.4,400.7 397.5,399.1 398.6,398.5 399.7,400.9 400.8,408.4 401.7,403.3 402.6,404.0 403.6,397.4 404.5,398.8 405.5,400.6 406.4,405.1 407.8,405.7 409.1,405.1 410.2,405.8 411.2,398.8 412.3,399.6 413.4,402.5 414.5,406.2 415.6,397.4 416.7,401.2 417.8,407.3 419.1,395.3 420.4,389.7 421.4,391.8 422.3,391.2 423.3,391.9 424.2,389.5 425.2,385.5 426.1,384.3 427.1,386.5 428.2,386.2 429.2,388.6 430.9,399.6 432.7,388.6 434.0,387.3 435.3,386.5 436.4,384.1 437.5,383.5 438.6,385.4 439.7,387.4 440.8,383.7 441.9,384.3 443.0,383.7 444.1,382.0 445.2,381.0 446.7,374.4 447.8,383.5 448.9,394.1 450.0,385.0 451.1,377.7 452.0,381.8 453.0,383.0 453.9,386.5 455.0,382.2 456.1,378.5 457.2,374.4 458.3,379.1 459.4,380.8 460.5,382.1 461.4,380.6 462.4,376.7 463.3,375.5 464.6,374.7 465.9,378.8 466.9,378.3 467.8,376.2 468.8,372.2 470.1,376.9 471.4,382.1 472.5,384.7 473.6,385.4 474.7,384.9 475.8,383.2 476.9,379.9 477.9,384.8 479.0,385.6 480.0,389.7 481.1,391.4 482.2,385.3 483.3,386.5 484.4,388.4 485.5,388.1 486.6,387.6 487.7,386.6 488.8,385.8 489.8,379.9 491.2,388.6 492.5,391.9 493.5,386.9 494.4,382.9 495.4,384.4 496.4,379.9 497.5,378.6 498.6,381.0 499.7,383.0 500.8,382.1 501.9,381.3 503.0,382.7 504.1,388.6 505.4,392.4 506.7,395.2 507.6,391.3 508.6,386.7 509.5,383.2 510.6,387.3 511.7,389.7 512.8,395.2 513.9,388.1 515.0,386.5 516.1,390.5 517.2,395.2 518.3,392.9 519.4,394.1 520.5,387.2 521.6,387.0 522.7,382.1 523.8,383.4 524.8,385.7 525.9,386.5 527.0,383.2 528.1,382.4 529.2,382.1 530.3,379.2 531.4,379.9 533.2,386.5 534.5,377.7 535.8,372.2 536.9,369.3 538.0,365.7 539.1,368.6 540.2,374.4 541.2,377.6 542.3,380.1 543.4,382.1 544.5,380.3 545.6,371.1 546.7,366.1 547.8,367.6 548.9,363.5 550.0,366.6 551.1,370.0 552.2,366.2 553.3,362.4 554.4,363.6 555.5,370.0 556.6,366.3 557.7,365.5 558.8,361.3 559.8,359.7 560.9,358.5 562.0,356.9 563.1,358.6 564.2,361.3 565.3,358.4 566.4,351.4 567.5,353.9 568.6,352.6 569.7,359.1 570.8,352.7 571.9,345.3 573.0,343.8 574.1,341.7 575.2,351.4 576.2,360.3 577.3,371.1 578.4,367.5 579.5,359.1 580.6,360.8 581.7,362.4 582.6,357.3 583.6,354.7 584.5,355.4 585.4,350.3 586.4,352.4 587.3,354.1 588.3,355.8 589.4,357.2 590.5,358.8 591.6,360.2 592.7,358.0 593.8,353.9 594.8,349.2 595.9,352.2 597.0,352.5 598.1,356.9 599.2,356.0 600.3,352.0 601.4,351.4 602.5,352.7 603.6,347.7 604.7,349.2 606.4,351.4 607.8,345.2 609.1,339.4 610.2,347.0 611.2,354.7 612.3,352.9 613.4,355.8 614.5,366.6 615.6,371.1 617.4,361.3" fill="none" stroke="#e26261" stroke-width="2.5" stroke-linejoin="miter" shape-rendering="crispEdges"/>
<path d="M77.5,24.5V422.5H617.5M77.5,335.5H617.5M77.5,335.5h4.5M77.5,304.5h2.5M77.5,286.5h2.5M77.5,273.5h2.5M77.5,263.5h2.5M77.5,254.5h2.5M77.5,247.5h2.5M77.5,241.5h2.5M77.5,236.5h2.5M77.5,231.5h4.5M77.5,200.5h2.5M77.5,182.5h2.5M77.5,169.5h2.5M77.5,159.5h2.5M77.5,151.5h2.5M77.5,144.5h2.5M77.5,138.5h2.5M77.5,132.5h2.5M77.5,128.5h4.5M77.5,96.5h2.5M77.5,78.5h2.5M77.5,65.5h2.5M77.5,55.5h2.5M77.5,47.5h2.5M77.5,40.5h2.5M77.5,34.5h2.5M77.5,29.5h2.5M77.5,24.5h4.5M77.5,344.5h4.5M77.5,352.5h4.5M77.5,361.5h4.5M77.5,370.5h4.5M77.5,379.5h4.5M77.5,387.5h4.5M77.5,396.5h4.5M77.5,405.5h4.5M77.5,413.5h4.5M77.5,335.5v-4.5M77.5,422.5v-4.5M131.5,335.5v-4.5M131.5,422.5v-4.5M185.5,335.5v-4.5M185.5,422.5v-4.5M239.5,335.5v-4.5M239.5,422.5v-4.5M293.5,335.5v-4.5M293.5,422.5v-4.5M347.5,335.5v-4.5M347.5,422.5v-4.5M401.5,335.5v-4.5M401.5,422.5v-4.5M455.5,335.5v-4.5M455.5,422.5v-4.5M509.5,335.5v-4.5M509.5,422.5v-4.5M563.5,335.5v-4.5M563.5,422.5v-4.5M617.5,335.5v-4.5M617.5,422.5v-4.5" fill="none" stroke="#808080" stroke-width="1" shape-rendering="crispEdges"/>
<g font-family="'Liberation Sans', sans-serif" font-size="15.8px" stroke="#ffffff" stroke-width="0.2">
<text x="36.2" y="340.0" fill="#808080" stroke-width="0.1" textLength="20" lengthAdjust="spacingAndGlyphs">10</text>
<text x="57.3" y="333.8" fill="#808080" font-size="12.2px" stroke-width="0.05" textLength="7.8" lengthAdjust="spacingAndGlyphs">0</text>
<text x="36.2" y="236.3" fill="#808080" stroke-width="0.1" textLength="20" lengthAdjust="spacingAndGlyphs">10</text>
<text x="57.3" y="230.1" fill="#808080" font-size="12.2px" stroke-width="0.05" textLength="7.8" lengthAdjust="spacingAndGlyphs">1</text>
<text x="36.2" y="132.7" fill="#808080" stroke-width="0.1" textLength="20" lengthAdjust="spacingAndGlyphs">10</text>
<text x="57.3" y="126.5" fill="#808080" font-size="12.2px" stroke-width="0.05" textLength="7.8" lengthAdjust="spacingAndGlyphs">2</text>
<text x="36.2" y="29.0" fill="#808080" stroke-width="0.1" textLength="20" lengthAdjust="spacingAndGlyphs">10</text>
<text x="57.3" y="22.8" fill="#808080" font-size="12.2px" stroke-width="0.05" textLength="7.8" lengthAdjust="spacingAndGlyphs">3</text>
<text x="77.7" y="446.2" fill="#808080" stroke-width="0.1" text-anchor="middle" textLength="10.0" lengthAdjust="spacingAndGlyphs">0</text>
<text x="131.7" y="446.2" fill="#808080" stroke-width="0.1" text-anchor="middle" textLength="34.9" lengthAdjust="spacingAndGlyphs">0.05</text>
<text x="186.5" y="446.2" fill="#808080" stroke-width="0.1" text-anchor="middle" textLength="25.0" lengthAdjust="spacingAndGlyphs">0.1</text>
<text x="239.7" y="446.2" fill="#808080" stroke-width="0.1" text-anchor="middle" textLength="34.9" lengthAdjust="spacingAndGlyphs">0.15</text>
<text x="294.5" y="446.2" fill="#808080" stroke-width="0.1" text-anchor="middle" textLength="25.0" lengthAdjust="spacingAndGlyphs">0.2</text>
<text x="347.7" y="446.2" fill="#808080" stroke-width="0.1" text-anchor="middle" textLength="34.9" lengthAdjust="spacingAndGlyphs">0.25</text>
<text x="402.5" y="446.2" fill="#808080" stroke-width="0.1" text-anchor="middle" textLength="25.0" lengthAdjust="spacingAndGlyphs">0.3</text>
<text x="455.7" y="446.2" fill="#808080" stroke-width="0.1" text-anchor="middle" textLength="34.9" lengthAdjust="spacingAndGlyphs">0.35</text>
<text x="510.5" y="446.2" fill="#808080" stroke-width="0.1" text-anchor="middle" textLength="25.0" lengthAdjust="spacingAndGlyphs">0.4</text>
<text x="563.7" y="446.2" fill="#808080" stroke-width="0.1" text-anchor="middle" textLength="34.9" lengthAdjust="spacingAndGlyphs">0.45</text>
<text x="618.5" y="446.2" fill="#808080" stroke-width="0.1" text-anchor="middle" textLength="25.0" lengthAdjust="spacingAndGlyphs">0.5</text>
<text transform="translate(27.2,180) rotate(-90)" text-anchor="middle" fill="#000" textLength="104" lengthAdjust="spacingAndGlyphs">I(q) log-scale</text>
<text transform="translate(49.2,379) rotate(-90)" text-anchor="middle" fill="#000" textLength="67" lengthAdjust="spacingAndGlyphs">Residual</text>
<text x="318.6" y="474" fill="#000" textLength="33.5" lengthAdjust="spacingAndGlyphs">q [Å</text>
<text x="353.6" y="468.2" fill="#000" font-size="12.2px" stroke-width="0.05" textLength="12" lengthAdjust="spacingAndGlyphs">-1</text>
<text x="369.2" y="474" fill="#000" textLength="5.2" lengthAdjust="spacingAndGlyphs">]</text>
<text x="534.3" y="42.6" fill="#000" text-anchor="end" textLength="107.5" lengthAdjust="spacingAndGlyphs">Experimental</text>
<text x="425.4" y="62" fill="#000" textLength="38.6" lengthAdjust="spacingAndGlyphs">FoXS</text>
<text x="468.6" y="62" fill="#000" textLength="9.8" lengthAdjust="spacingAndGlyphs">χ</text>
<text x="481.3" y="55.8" fill="#000" font-size="12.2px" stroke-width="0.05" textLength="7.8" lengthAdjust="spacingAndGlyphs">2</text>
<text x="495.2" y="62" fill="#000" textLength="12.8" lengthAdjust="spacingAndGlyphs">=</text>
<text x="513.6" y="62" fill="#000" textLength="18.8" lengthAdjust="spacingAndGlyphs">14</text>
</g>
<path d="M571,36h1v1h-1zM570,37h3v1h-3zM569,38h2v1h-2zM572,38h2v1h-2zM570,39h3v1h-3zM571,40h1v1h-1z" fill="#333333" shape-rendering="crispEdges"/>
<line x1="546" y1="57" x2="596" y2="57" stroke="#e26261" stroke-width="2.1"/>
</svg>
</body>
</html>
